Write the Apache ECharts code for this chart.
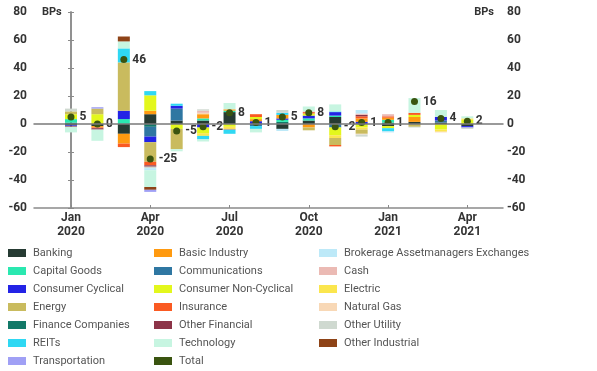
<!DOCTYPE html>
<html><head><meta charset="utf-8">
<script src="https://cdn.jsdelivr.net/npm/echarts@6/dist/echarts.min.js"></script>
<style>html,body{margin:0;padding:0;background:#fff}#c{width:597px;height:371px}</style>
</head><body><div id="c"></div>
<script>
// ---- data ----
const months = ['Jan 2020','Feb 2020','Mar 2020','Apr 2020','May 2020','Jun 2020','Jul 2020','Aug 2020','Sep 2020','Oct 2020','Nov 2020','Dec 2020','Jan 2021','Feb 2021','Mar 2021','Apr 2021'];
const tickMonths = ['Jan 2020','Apr 2020','Jul 2020','Oct 2020','Jan 2021','Apr 2021'];
const yTicks = [-60,-40,-20,0,20,40,60,80];

const banking        = [-1,-1.5,-7,7,2.5,2.5,8.5,0,-3.5,2.5,5,0,-1.5,1.5,1,-1.5];
const financeCos     = [1,0,0,-2,0,0,0,0,1.5,0,0,0,1,0,0,0];
const capitalGoods   = [2.5,0,3.5,0,0,1.5,1,0,1.5,1.5,1,0,2,0,0,0];
const communications = [0,0,0,-7,8.5,0,0,-1.5,0,0,-2.5,0,0,0,1.5,0];
const consCyclical   = [-0.5,0,6,-4,2,-2.5,0,2,1,2,2.5,1.5,0,0,2.5,-1];
const basicIndustry  = [0,-1,-7,2.5,0,3,1,1.5,2.5,-2.5,0,2.5,1.5,3.5,0,0];
const consNonCyc     = [3.5,7,0,11,-3.5,-4,-2,1.5,0,1.5,-5.5,-2.5,-1.5,1.5,-4,3];
const electric       = [0,0,0,0,0,-2,-1.5,0,0,0,-2,-1.5,0,0,-1.5,1];
const energy         = [2,4,34.5,-14,-14.5,0,0,0,0,-2,-5,-3,0,-2,0,0];
const insurance      = [0,-0.5,-2.5,-2.5,0,0,-0.5,2,0,1,-1,1.5,1,1.5,0,0];
const otherFinancial = [-0.5,-1,0,-1,0,0,0,0,0,0,0,1,0,0,0,0];
const reits          = [0,0,10,3,1.5,-2.5,-3,-2,1.5,0,0.5,0,-2,0,0,0];
const naturalGas     = [0,0,0,0,0,1,0,0,0,0,0,-0.5,0,0,-0.5,0];
const cash           = [0,0,0,0,0,1.5,0,0,0,0.5,0,1,1.5,0,0,0];
const otherUtility   = [2,0,0,-1,0,1,0,0,2,0,0,-1.5,0,-0.5,0,-1];
const brokerage      = [0,0,0,-1.5,0,0,0,0,-1.5,0,0,2.5,-1,0,0,0];
const technology     = [-4,-8,5,-12,-1.5,-1.5,4.5,-2.5,0,3.5,5,0,0,10.5,5,1.5];
const otherIndustrial= [0,0,3.5,-2,0,0,0,0,0,0,0,0,0,0,0,0];
const transportation = [0,1,0,-1.5,0,0,0,0,0,0,0,0,0,0,0,0];
const total          = [5,0,46,-25,-5,-2,8,1,5,8,-2,1,1,16,4,2];

// stacking order (bottom-up) and names
const sectors = [
  ['Banking', banking], ['Finance Companies', financeCos], ['Capital Goods', capitalGoods],
  ['Communications', communications], ['Consumer Cyclical', consCyclical], ['Basic Industry', basicIndustry],
  ['Consumer Non-Cyclical', consNonCyc], ['Electric', electric], ['Energy', energy],
  ['Insurance', insurance], ['Other Financial', otherFinancial], ['REITs', reits],
  ['Natural Gas', naturalGas], ['Cash', cash], ['Other Utility', otherUtility],
  ['Brokerage Assetmanagers Exchanges', brokerage], ['Technology', technology],
  ['Other Industrial', otherIndustrial], ['Transportation', transportation]
];
const legendCol1 = ['Banking','Capital Goods','Consumer Cyclical','Energy','Finance Companies','REITs','Transportation'];
const legendCol2 = ['Basic Industry','Communications','Consumer Non-Cyclical','Insurance','Other Financial','Technology','Total'];
const legendCol3 = ['Brokerage Assetmanagers Exchanges','Cash','Electric','Natural Gas','Other Utility','Other Industrial'];

// ---- styles ----
const colors = {
  'Banking':'#263b33','Capital Goods':'#2ae8b0','Consumer Cyclical':'#2323e6','Energy':'#c9bb5e',
  'Finance Companies':'#127968','REITs':'#2fd8f3','Transportation':'#a0a0f5','Basic Industry':'#ff9a10',
  'Communications':'#2f77a2','Consumer Non-Cyclical':'#e3f71d','Insurance':'#fa5a22','Other Financial':'#8c3448',
  'Technology':'#c7f5e1','Total':'#3a5410','Brokerage Assetmanagers Exchanges':'#bde9f8','Cash':'#ebbab4',
  'Electric':'#fbe64e','Natural Gas':'#f8d8b6','Other Utility':'#cfd9d0','Other Industrial':'#8e4317'
};
const FONT = 'Roboto, "Liberation Sans", sans-serif';
const axisGray = '#8a8a8a';
const tickIdx = tickMonths.map(m => months.indexOf(m));

// frame grid (axes) and bar grid share the same month scale
const frameLeft = 34, frameRight = 503, padMonths = 1.4, padEnd = 1.35;
const monthPx = (frameRight - frameLeft) / (months.length - 1 + padMonths + padEnd);
const barGridLeft = frameLeft + (padMonths - 0.5) * monthPx;
const barGridWidth = months.length * monthPx;

const series = sectors.map(([name, vals]) => ({
  name, type:'bar', stack:'s', barWidth:12, xAxisIndex:1, yAxisIndex:2,
  itemStyle:{color:colors[name]}, data: vals
}));
series.push({
  name:'Total', type:'scatter', symbol:'circle', symbolSize:7, z:5, xAxisIndex:1, yAxisIndex:2,
  itemStyle:{color:colors['Total'], opacity:1}, data: total,
  label:{show:true, position:'right', distance:5, formatter:p=>String(p.value),
         fontWeight:'bold', fontSize:12, color:'#333', fontFamily:FONT}
});

const yAx = (pos, margin) => ({
  type:'value', gridIndex:0, position:pos, min:yTicks[0], max:yTicks[yTicks.length-1], interval:yTicks[1]-yTicks[0],
  axisLine:{show:true, lineStyle:{color:axisGray, width:1.5}},
  axisTick:{show:true, length:3, lineStyle:{color:axisGray}},
  axisLabel:{fontWeight:'bold', fontSize:12, color:'#333', margin, fontFamily:FONT},
  splitLine:{show:false}
});
const legendBase = (data, left) => ({
  data, left, top:247, orient:'vertical', itemWidth:18, itemHeight:8, itemGap:6, icon:'rect',
  padding:0, selectedMode:false,
  itemStyle:{opacity:1},
  textStyle:{fontSize:11, color:'#555', lineHeight:12, fontFamily:FONT, padding:[0,0,0,2]}
});

const chart = echarts.init(document.getElementById('c'), null, {renderer:'canvas'});
chart.setOption({
  animation:false,
  textStyle:{fontFamily:FONT},
  grid:[
    {left:frameLeft, width:frameRight-frameLeft, top:12, bottom:163, containLabel:false},
    {left:barGridLeft, width:barGridWidth, top:12, bottom:163, containLabel:false}
  ],
  xAxis:[
    { type:'value', gridIndex:0, min:-padMonths, max:months.length-1+padEnd,
      axisLine:{show:true, onZero:false, lineStyle:{color:axisGray, width:1.5}},
      axisTick:{show:true, inside:true, length:3, customValues:tickIdx, lineStyle:{color:axisGray}},
      axisLabel:{customValues:tickIdx, formatter:v=>months[Math.round(v)].replace(' ','\n'),
                 fontWeight:'bold', fontSize:12, color:'#333', lineHeight:14, margin:3, fontFamily:FONT},
      splitLine:{show:false} },
    { type:'category', gridIndex:1, data:months, boundaryGap:true, show:false },
    { type:'value', gridIndex:0, min:-padMonths, max:months.length-1+padEnd, z:10,
      axisLine:{show:true, onZero:true, onZeroAxisIndex:0, lineStyle:{color:'#7a7a7a', width:1.5}},
      axisTick:{show:false}, axisLabel:{show:false}, splitLine:{show:false} }
  ],
  yAxis:[
    yAx('left',7), yAx('right',4),
    { type:'value', gridIndex:1, min:yTicks[0], max:yTicks[yTicks.length-1], show:false, splitLine:{show:false} }
  ],
  legend:[legendBase(legendCol1,8), legendBase(legendCol2,154), legendBase(legendCol3,319)],
  graphic:[
    {type:'text', left:42, top:7, style:{text:'BPs', font:'bold 11px '+FONT, fill:'#333'}},
    {type:'text', right:103, top:7, style:{text:'BPs', font:'bold 11px '+FONT, fill:'#333'}}
  ],
  series
});
</script></body></html>
